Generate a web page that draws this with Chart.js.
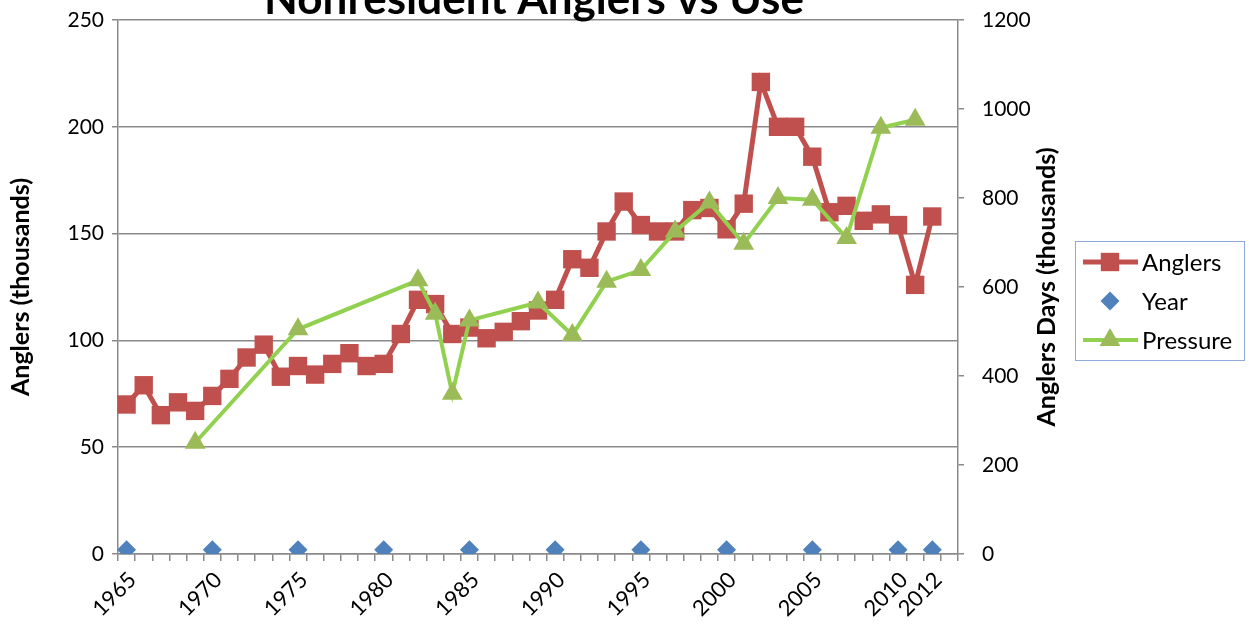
<!DOCTYPE html>
<html>
<head>
<meta charset="utf-8">
<script src="https://cdn.jsdelivr.net/npm/chart.js@4.4.1/dist/chart.umd.min.js"></script>
<style>
html, body { margin: 0; padding: 0; background: #fff; }
</style>
</head>
<body>
<canvas id="chart" width="1249" height="626"></canvas>
<script>
const chartTitle = 'Nonresident Anglers vs Use';
const leftTitle = 'Anglers (thousands)';
const rightTitle = 'Anglers Days (thousands)';

const years = ['1965','1966','1967','1968','1969','1970','1971','1972','1973','1974',
  '1975','1976','1977','1978','1979','1980','1981','1982','1983','1984',
  '1985','1986','1987','1988','1989','1990','1991','1992','1993','1994',
  '1995','1996','1997','1998','1999','2000','2001','2002','2003','2004',
  '2005','2006','2007','2008','2009','2010','2011','2012','2013'];

// only these years get a label on the x axis
const shownYears = ['1965','1970','1975','1980','1985','1990','1995','2000','2005','2010','2012'];

// anglers, thousands (left axis)
const anglers = [70, 79, 65, 71, 67, 74, 82, 92, 98, 83,
  88, 84, 89, 94, 88, 89, 103, 119, 117, 103,
  106, 101, 104, 109, 114, 119, 138, 134, 151, 165,
  154, 151, 151, 161, 162, 152, 164, 221, 200, 200,
  186, 160, 163, 156, 159, 154, 126, 158, null];

// year markers sit just above zero
const yearMarks = [2, null, null, null, null, 2, null, null, null, null,
  2, null, null, null, null, 2, null, null, null, null,
  2, null, null, null, null, 2, null, null, null, null,
  2, null, null, null, null, 2, null, null, null, null,
  2, null, null, null, null, 2, null, 2, null];

// angler days, thousands (right axis)
const pressure = [null, null, null, null, 250, null, null, null, null, null,
  505, null, null, null, null, null, null, 615, 540, 360,
  525, null, null, null, 565, null, 492, null, 612, null,
  638, null, 725, null, 790, null, 697, null, 800, null,
  796, null, 710, null, 958, null, 976, null, null];

const fontFamily = 'Lato, "Open Sans", sans-serif';
Chart.defaults.font.family = fontFamily;
Chart.defaults.color = '#000';

const gridGray = '#8a8a8a';

const extrasPlugin = {
  id: 'extras',
  afterDraw(chart) {
    const ctx = chart.ctx;
    const area = chart.chartArea;
    const midY = (area.top + area.bottom) / 2;
    ctx.save();

    // title (runs off the top edge like the original)
    ctx.font = 'bold 44px ' + fontFamily;
    ctx.fillStyle = '#000';
    ctx.textAlign = 'center';
    ctx.textBaseline = 'alphabetic';
    ctx.fillText(chartTitle, (area.left + area.right) / 2 - 4, 14);

    // axis titles, both reading bottom to top
    ctx.font = 'bold 25px ' + fontFamily;
    ctx.textBaseline = 'middle';
    [[21, leftTitle], [1047, rightTitle]].forEach(([x, txt]) => {
      ctx.save();
      ctx.translate(x, midY);
      ctx.rotate(-Math.PI / 2);
      ctx.fillText(txt, 0, 0);
      ctx.restore();
    });

    // legend
    ctx.strokeStyle = '#8eaadb';
    ctx.lineWidth = 1;
    ctx.strokeRect(1075.5, 241.5, 169, 119);

    const rows = [262, 301, 340];
    chart.data.datasets.forEach((ds, i) => {
      const y = rows[i];
      if (ds.showLine !== false) {
        ctx.strokeStyle = ds.borderColor;
        ctx.lineWidth = ds.borderWidth;
        ctx.beginPath();
        ctx.moveTo(1083, y);
        ctx.lineTo(1138, y);
        ctx.stroke();
      }
      ctx.fillStyle = ds.pointBackgroundColor;
      ctx.strokeStyle = ds.pointBorderColor;
      Chart.helpers.drawPoint(ctx, {
        pointStyle: ds.pointStyle,
        radius: ds.pointRadius,
        rotation: 0,
        borderWidth: 0
      }, 1110, y);
      ctx.fillStyle = '#000';
      ctx.font = '24px ' + fontFamily;
      ctx.textAlign = 'left';
      ctx.textBaseline = 'middle';
      ctx.fillText(ds.label, 1142, y + 1);
    });

    ctx.restore();
  }
};

// keep the tick label padding from pushing the plot down
function fixVertical(width) {
  return (scale) => {
    scale.width = width;
    scale.paddingTop = 0;
    scale.paddingBottom = 0;
  };
}

new Chart(document.getElementById('chart'), {
  type: 'line',
  data: {
    labels: years,
    datasets: [{
      label: 'Anglers',
      data: anglers,
      yAxisID: 'y',
      borderColor: '#c0504d',
      borderWidth: 5,
      pointStyle: 'rect',
      pointRadius: 13,
      pointBackgroundColor: '#c0504d',
      pointBorderColor: '#c0504d',
      pointBorderWidth: 0,
      tension: 0,
      order: 2
    }, {
      label: 'Year',
      data: yearMarks,
      yAxisID: 'y',
      showLine: false,
      borderColor: '#4f81bd',
      pointStyle: 'rectRot',
      pointRadius: 9.5,
      pointBackgroundColor: '#4f81bd',
      pointBorderColor: '#4f81bd',
      pointBorderWidth: 0,
      order: 1
    }, {
      label: 'Pressure',
      data: pressure,
      yAxisID: 'y2',
      spanGaps: true,
      borderColor: '#92d050',
      borderWidth: 4,
      pointStyle: 'triangle',
      pointRadius: 12,
      pointBackgroundColor: '#9bbb59',
      pointBorderColor: '#9bbb59',
      pointBorderWidth: 0,
      tension: 0,
      order: 0
    }]
  },
  options: {
    responsive: false,
    animation: false,
    layout: { padding: { left: 0, right: 186, top: 20, bottom: 0 } },
    plugins: {
      legend: { display: false },
      tooltip: { enabled: false }
    },
    scales: {
      x: {
        offset: true,
        grid: {
          offset: true,
          drawOnChartArea: false,
          drawTicks: true,
          tickLength: 7,
          color: gridGray,
          lineWidth: 1.5
        },
        border: { color: gridGray, width: 1.5 },
        ticks: {
          autoSkip: false,
          maxRotation: 45,
          minRotation: 45,
          padding: 6,
          labelOffset: 6,
          font: { size: 22 },
          callback: function (value) {
            const lab = this.getLabelForValue(value);
            return shownYears.includes(lab) ? lab : '';
          }
        },
        afterFit: (scale) => { scale.height = 72; }
      },
      y: {
        position: 'left',
        min: 0,
        max: 250,
        ticks: { stepSize: 50, padding: 8, font: { size: 21 } },
        grid: { color: gridGray, lineWidth: 1.5, tickLength: 6 },
        border: { color: gridGray, width: 1.5 },
        afterFit: fixVertical(118)
      },
      y2: {
        position: 'right',
        min: 0,
        max: 1200,
        ticks: {
          stepSize: 200,
          padding: 18,
          font: { size: 21 },
          callback: (value) => String(value)
        },
        grid: { drawOnChartArea: false, color: gridGray, lineWidth: 1.5, tickLength: 6 },
        border: { color: gridGray, width: 1.5 },
        afterFit: fixVertical(105)
      }
    }
  },
  plugins: [extrasPlugin]
});
</script>
</body>
</html>
